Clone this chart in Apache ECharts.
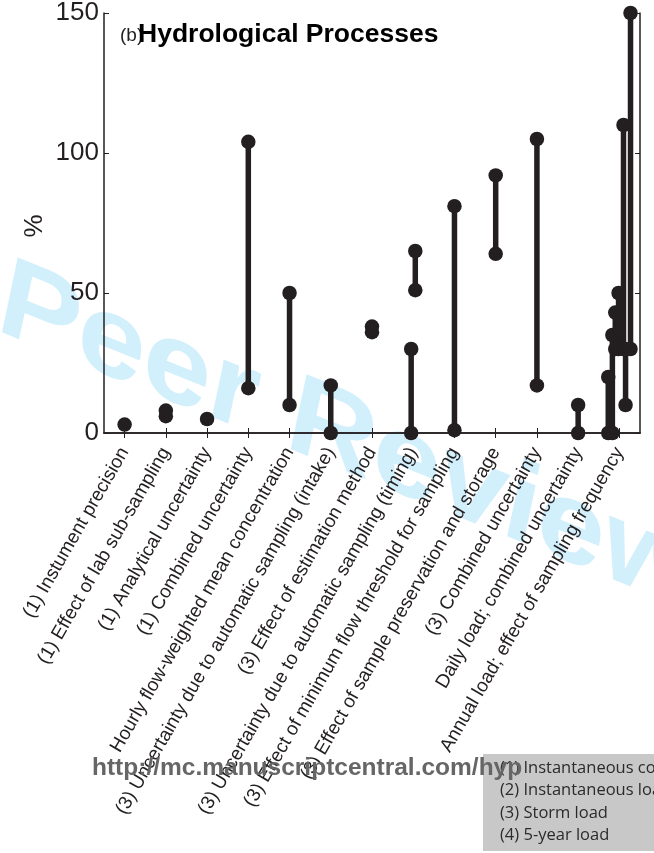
<!DOCTYPE html>
<html>
<head>
<meta charset="utf-8">
<script src="https://cdn.jsdelivr.net/npm/echarts@6/dist/echarts.min.js"></script>
<style>
  html, body { margin: 0; padding: 0; background: #ffffff; }
  #chart { width: 654px; height: 853px; }
</style>
</head>
<body>
<div id="chart"></div>
<script>
// Uncertainty source categories (x axis)
const categories = [
  '(1) Instument precision',
  '(1) Effect of lab sub-sampling',
  '(1) Analytical uncertainty',
  '(1) Combined uncertainty',
  'Hourly flow-weighted mean concentration',
  '(3) Uncertainty due to automatic sampling (intake)',
  '(3) Effect of estimation method',
  '(3) Uncertainty due to automatic sampling (timing)',
  '(3) Effect of minimum flow threshold for sampling',
  '(3) Effect of sample preservation and storage',
  '(3) Combined uncertainty',
  'Daily load; combined uncertainty',
  'Annual load; effect of sampling frequency'
];

// Reported uncertainty ranges (%), one entry per study; position = category number
const rangePos  = [1, 2, 3, 4, 5, 6, 7, 7.95, 8.05, 9, 10, 11, 12, 12.73, 12.83, 12.9, 12.98, 13.1, 13.15, 13.27];
const rangeLow  = [3, 6, 5, 16, 10, 0, 36, 0, 51, 1, 64, 17, 0, 0, 0, 30, 30, 30, 10, 30];
const rangeHigh = [3, 8, 5, 104, 50, 17, 38, 30, 65, 81, 92, 105, 10, 20, 35, 43, 50, 110, 30, 150];

const yTicks = [0, 50, 100, 150];

const legendItems = [
  '(1) Instantaneous concentration',
  '(2) Instantaneous load',
  '(3) Storm load',
  '(4) 5-year load'
];

const ink = '#231f20';
const sans = '"Liberation Sans", Arial, Helvetica, sans-serif';

const chart = echarts.init(document.getElementById('chart'), null, { renderer: 'canvas' });

const series = rangePos.map((x, i) => ({
  type: 'line',
  xAxisIndex: 2,
  yAxisIndex: 0,
  data: rangeLow[i] === rangeHigh[i] ? [[x, rangeLow[i]]] : [[x, rangeLow[i]], [x, rangeHigh[i]]],
  symbol: 'circle',
  symbolSize: 14.5,
  showSymbol: true,
  clip: false,
  lineStyle: { color: ink, width: 5.5 },
  itemStyle: { color: ink },
  emphasis: { disabled: true },
  z: 5
}));

const axisLine = { show: true, lineStyle: { color: ink, width: 1.5 } };
const axisTick = { show: true, inside: true, length: 5, lineStyle: { color: ink, width: 1 } };

const legendGraphics = [{
  type: 'rect',
  shape: { x: 483, y: 754, width: 200, height: 97 },
  style: { fill: '#c8c8c8' },
  z: 50
}].concat(legendItems.map((t, i) => ({
  type: 'text',
  x: 500,
  y: 768 + i * 22.4,
  style: {
    text: t,
    fill: '#2b2b2b',
    fontFamily: '"Open Sans", "Noto Sans", sans-serif',
    fontSize: 16.5,
    textAlign: 'left',
    textVerticalAlign: 'middle'
  },
  z: 51
})));

const option = {
  backgroundColor: '#ffffff',
  animation: false,
  grid: { left: 104, top: 11, width: 536, height: 422, containLabel: false },
  xAxis: [
    {
      type: 'category',
      data: categories,
      position: 'bottom',
      boundaryGap: true,
      axisLine: axisLine,
      axisTick: Object.assign({ alignWithLabel: true, interval: 0 }, axisTick),
      axisLabel: {
        interval: 0,
        rotate: 60,
        margin: 16,
        color: ink,
        fontFamily: sans,
        fontSize: 19
      },
      splitLine: { show: false }
    },
    {
      type: 'category',
      data: categories,
      position: 'top',
      boundaryGap: true,
      axisLine: axisLine,
      axisTick: Object.assign({ alignWithLabel: true, interval: 0 }, axisTick),
      axisLabel: { show: false },
      splitLine: { show: false }
    },
    {
      type: 'value',
      min: 0.5,
      max: 13.5,
      show: false
    }
  ],
  yAxis: [
    {
      type: 'value',
      min: yTicks[0],
      max: yTicks[yTicks.length - 1],
      interval: 50,
      position: 'left',
      axisLine: axisLine,
      axisTick: axisTick,
      axisLabel: { color: ink, fontFamily: sans, fontSize: 26, margin: 5 },
      splitLine: { show: false }
    },
    {
      type: 'value',
      min: yTicks[0],
      max: yTicks[yTicks.length - 1],
      interval: 50,
      position: 'right',
      axisLine: axisLine,
      axisTick: axisTick,
      axisLabel: { show: false },
      splitLine: { show: false }
    }
  ],
  series: series,
  graphic: [
    {
      type: 'text',
      x: 35,
      y: 226,
      rotation: Math.PI / 2,
      style: {
        text: '%',
        fill: ink,
        fontFamily: sans,
        fontSize: 26,
        textAlign: 'center',
        textVerticalAlign: 'middle'
      },
      z: 10
    },
    {
      type: 'text',
      x: 120,
      y: 36,
      style: {
        text: '(b)',
        fill: ink,
        fontFamily: sans,
        fontSize: 19,
        textAlign: 'left',
        textVerticalAlign: 'middle'
      },
      z: 10
    },
    {
      type: 'text',
      x: 138,
      y: 35,
      style: {
        text: 'Hydrological Processes',
        fill: '#000000',
        fontFamily: sans,
        fontSize: 26.5,
        fontWeight: 'bold',
        textAlign: 'left',
        textVerticalAlign: 'middle'
      },
      z: 11
    }
  ].concat(legendGraphics).concat([
    {
      type: 'text',
      x: 92,
      y: 768,
      style: {
        text: 'http://mc.manuscriptcentral.com/hyp',
        fill: '#666666',
        fontFamily: sans,
        fontSize: 24.5,
        fontWeight: 'bold',
        textAlign: 'left',
        textVerticalAlign: 'middle'
      },
      z: 60
    }
  ])
};

chart.setOption(option);

// Slanted "Peer Review" stamp behind the plot (sheared baseline, upright letters)
const stamp = new echarts.graphic.Text({
  x: 0,
  y: 299,
  skewY: -22 * Math.PI / 180,
  silent: true,
  z: -10,
  zlevel: 0,
  style: {
    text: 'Peer Review',
    fill: '#d2effc',
    font: 'italic bold 118px "Liberation Sans", Arial, sans-serif',
    align: 'left',
    verticalAlign: 'middle'
  }
});
chart.getZr().add(stamp);
</script>
</body>
</html>
